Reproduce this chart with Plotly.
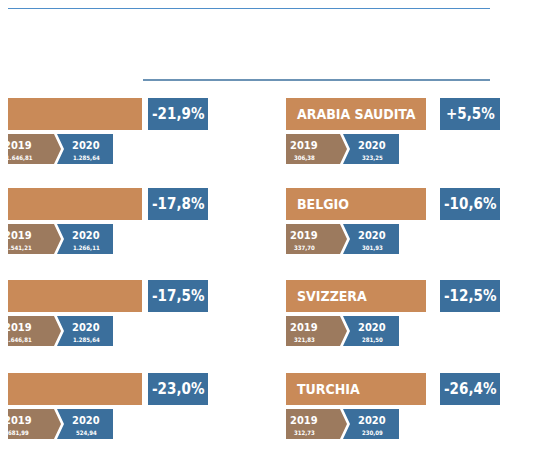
import plotly.graph_objects as go

countries = ["STATI UNITI", "GERMANIA", "FRANCIA", "REGNO UNITO",
             "ARABIA SAUDITA", "BELGIO", "SVIZZERA", "TURCHIA"]
changes = ["-21,9%", "-17,8%", "-17,5%", "-23,0%",
           "+5,5%", "-10,6%", "-12,5%", "-26,4%"]
exp_2019 = ["*1.646,81", "1.541,21", "1.646,81", "681,99",
            "306,38", "337,70", "321,83", "312,73"]
exp_2020 = ["1.285,64", "1.266,11", "1.285,64", "524,94",
            "323,25", "301,93", "281,50", "230,09"]

ORANGE = "#c98a58"
BLUE = "#3b6f9c"
BROWN = "#9c7a5e"
TITLE_BLUE = "#4f8fca"
FONT = "DejaVu Sans Condensed"

row_y = [98, 188, 280, 373]
col_x = [0, 286]

shapes = []
ann = []

def text(x, y, s, size, color="white", xanchor="center", bold=True):
    ann.append(dict(x=x, y=y, text=f"<b>{s}</b>" if bold else s, showarrow=False,
                    xanchor=xanchor, yanchor="middle",
                    font=dict(family=FONT, size=size, color=color)))

# header
shapes.append(dict(type="rect", x0=0, x1=490, y0=2, y1=9, fillcolor=TITLE_BLUE, line_width=0))
text(2, 26, "L’EXPORT DELLA MECCANICA", 19, TITLE_BLUE, "left")
text(2, 53, "NEL PRIMO SEMESTRE DEL 2020", 19, TITLE_BLUE, "left")
text(2, 80, "*Valori export in mln di €", 8, BLUE, "left")
shapes.append(dict(type="line", x0=143, x1=490, y0=80, y1=80, line=dict(color=BLUE, width=1.5)))

for i, name in enumerate(countries):
    x0 = col_x[i // 4]
    y0 = row_y[i % 4]
    name_w = 142 if i < 4 else 140
    pct_x = x0 + (148 if i < 4 else 154)
    # name box and change box
    shapes.append(dict(type="rect", x0=x0, x1=x0 + name_w, y0=y0, y1=y0 + 32,
                       fillcolor=ORANGE, line_width=0))
    shapes.append(dict(type="rect", x0=pct_x, x1=pct_x + 60, y0=y0, y1=y0 + 32,
                       fillcolor=BLUE, line_width=0))
    text(x0 + (3 if i < 4 else 9), y0 + 16, name, 16 if i < 4 else 14, xanchor="left")
    text(pct_x + 30, y0 + 16, changes[i], 15)
    # chevrons
    cy = y0 + 36
    p19 = (f"M {x0},{cy} L {x0+54},{cy} L {x0+61},{cy+15} L {x0+54},{cy+30} "
           f"L {x0},{cy+30} Z")
    p20 = (f"M {x0+57},{cy} L {x0+113},{cy} L {x0+113},{cy+30} L {x0+57},{cy+30} "
           f"L {x0+64},{cy+15} Z")
    shapes.append(dict(type="path", path=p19, fillcolor=BROWN, line_width=0))
    shapes.append(dict(type="path", path=p20, fillcolor=BLUE, line_width=0))
    text(x0 + 18, cy + 11, "2019", 11)
    text(x0 + 18, cy + 23, exp_2019[i], 6)
    text(x0 + 86, cy + 11, "2020", 11)
    text(x0 + 86, cy + 23, exp_2020[i], 6)

fig = go.Figure()
# ranges shifted by the page's 8px body margin
fig.update_layout(
    width=534, height=462, margin=dict(l=0, r=0, t=0, b=0),
    paper_bgcolor="white", plot_bgcolor="white",
    xaxis=dict(range=[8, 542], visible=False, fixedrange=True),
    yaxis=dict(range=[470, 8], visible=False, fixedrange=True),
    shapes=shapes, annotations=ann, showlegend=False,
)
fig.write_html("out.html")
